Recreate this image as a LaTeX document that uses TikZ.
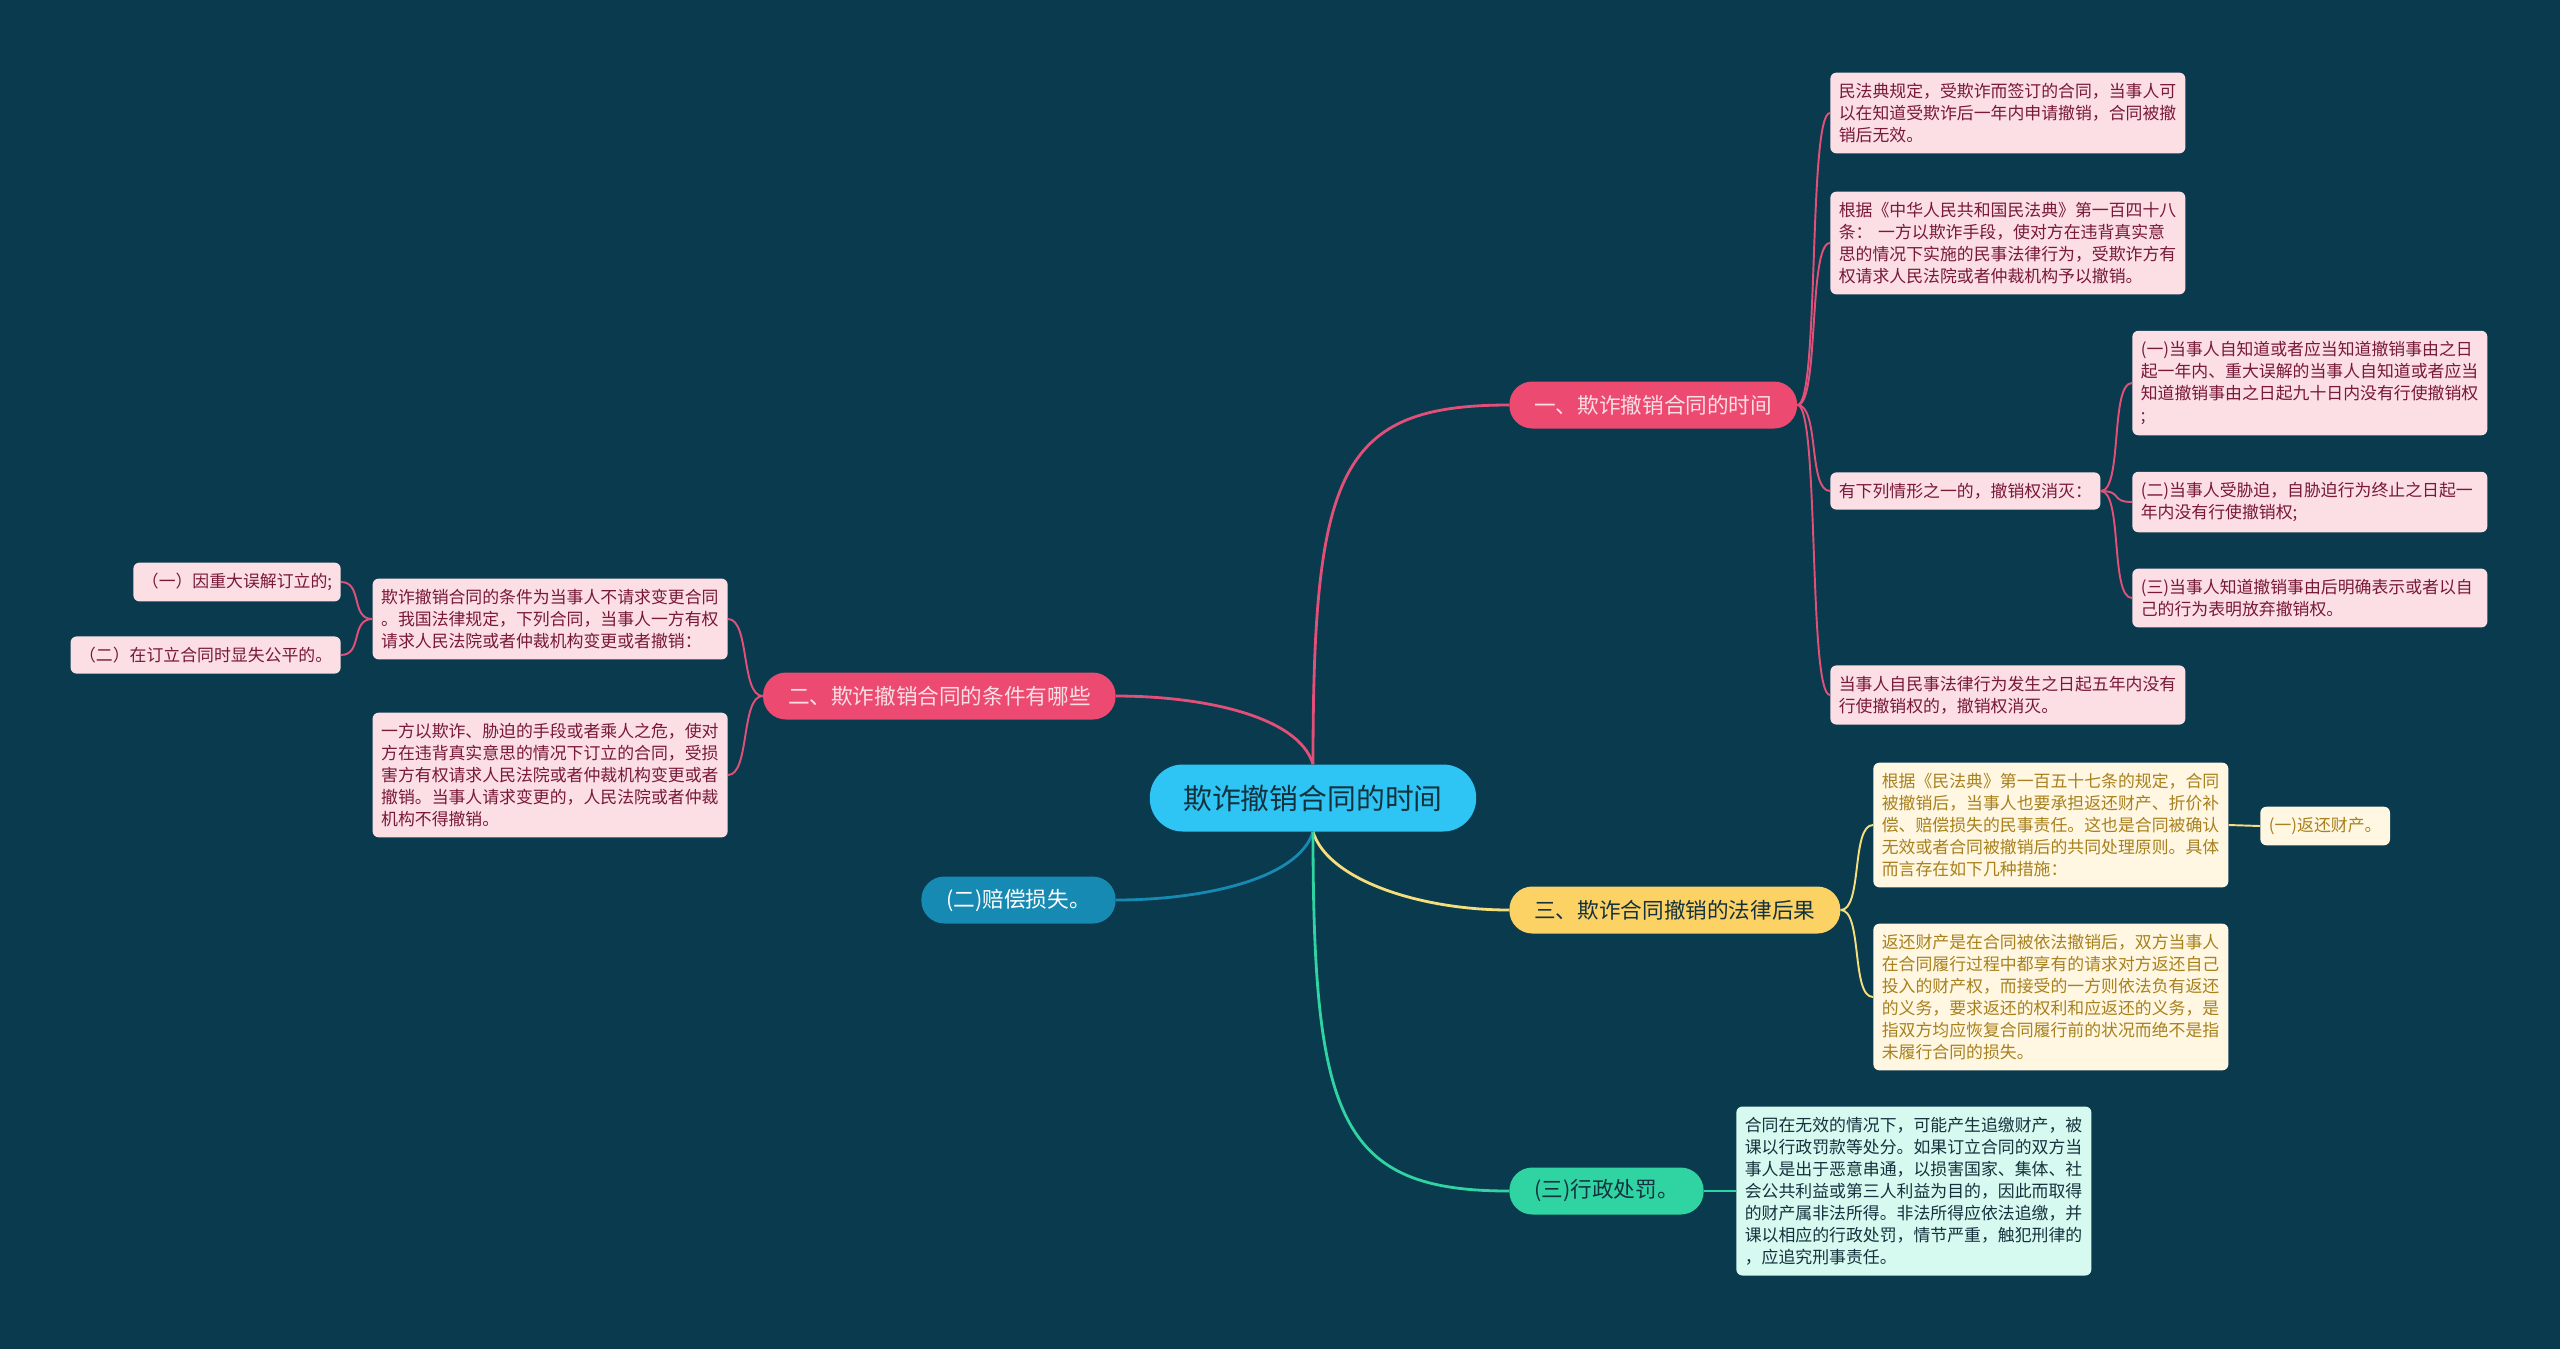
\documentclass[tikz,border=0pt]{standalone}
\usepackage{fontspec}
\newfontfamily\zhfont{Noto Sans CJK SC}
\usetikzlibrary{positioning}

\begin{document}
\begin{tikzpicture}[x=0.2mm, y=-0.2mm,
  pill/.style={rounded corners=4.6mm, minimum height=9.4mm, inner xsep=5mm, inner ysep=0pt,
    font=\zhfont\fontsize{12.3}{14}\selectfont},
  leaf/.style={rounded corners=1.2mm, inner xsep=1.7mm, inner ysep=6pt, align=left,
    font=\zhfont\fontsize{9.6}{12.5}\selectfont},
  wide/.style={leaf, text width=67.6mm},
  mainline/.style={line width=1.6pt},
  subline/.style={line width=1.1pt}]
  % Define colors
  \definecolor{bgcolor}{RGB}{10, 58, 77}
  \definecolor{rootcolor}{RGB}{46, 196, 243}
  \definecolor{rosecolor}{RGB}{236, 74, 112}
  \definecolor{rosefill}{RGB}{252, 222, 229}
  \definecolor{rosetext}{RGB}{120, 25, 55}
  \definecolor{roseline}{RGB}{224, 80, 120}
  \definecolor{goldcolor}{RGB}{252, 210, 100}
  \definecolor{goldfill}{RGB}{255, 247, 225}
  \definecolor{goldtext}{RGB}{168, 128, 30}
  \definecolor{goldline}{RGB}{245, 222, 125}
  \definecolor{seacolor}{RGB}{22, 138, 178}
  \definecolor{mintcolor}{RGB}{48, 212, 162}
  \definecolor{mintfill}{RGB}{214, 250, 240}
  \definecolor{darktext}{RGB}{20, 50, 62}

  % Background
  \fill[bgcolor] (0,0) rectangle (2560,1349);
  \useasboundingbox (0,0) rectangle (2560,1349);

  % Central topic
  \node[rounded corners=6.6mm, minimum height=13.4mm, inner xsep=6.7mm, fill=rootcolor, text=darktext,
    font=\zhfont\fontsize{16.4}{18}\selectfont] (root) at (1313,798) {欺诈撤销合同的时间};

  % Main branches
  \node[pill, fill=rosecolor, text=rosefill, anchor=west] (b1) at (1509,405) {一、欺诈撤销合同的时间};
  \node[pill, fill=rosecolor, text=rosefill, anchor=east] (b2) at (1116,696) {二、欺诈撤销合同的条件有哪些};
  \node[pill, fill=seacolor, text=white, anchor=east] (b4) at (1116,900) {(二)赔偿损失。};
  \node[pill, fill=goldcolor, text=darktext, anchor=west] (b3) at (1509,910) {三、欺诈合同撤销的法律后果};
  \node[pill, fill=mintcolor, text=darktext, anchor=west] (b5) at (1509,1191) {(三)行政处罚。};

  % Branch one
  \node[wide, fill=rosefill, text=rosetext, anchor=west] (a1) at (1830,113) {民法典规定，受欺诈而签订的合同，当事人可\\以在知道受欺诈后一年内申请撤销，合同被撤\\销后无效。};
  \node[wide, fill=rosefill, text=rosetext, anchor=west] (a2) at (1830,243) {根据《中华人民共和国民法典》第一百四十八\\条： 一方以欺诈手段，使对方在违背真实意\\思的情况下实施的民事法律行为，受欺诈方有\\权请求人民法院或者仲裁机构予以撤销。};
  \node[leaf, fill=rosefill, text=rosetext, anchor=west] (a3) at (1830,491) {有下列情形之一的，撤销权消灭：};
  \node[wide, fill=rosefill, text=rosetext, anchor=west] (a4) at (1830,695) {当事人自民事法律行为发生之日起五年内没有\\行使撤销权的，撤销权消灭。};
  \node[wide, fill=rosefill, text=rosetext, anchor=west] (l1) at (2132,383) {(一)当事人自知道或者应当知道撤销事由之日\\起一年内、重大误解的当事人自知道或者应当\\知道撤销事由之日起九十日内没有行使撤销权\\;};
  \node[wide, fill=rosefill, text=rosetext, anchor=west] (l2) at (2132,502) {(二)当事人受胁迫，自胁迫行为终止之日起一\\年内没有行使撤销权;};
  \node[wide, fill=rosefill, text=rosetext, anchor=west] (l3) at (2132,598) {(三)当事人知道撤销事由后明确表示或者以自\\己的行为表明放弃撤销权。};

  % Branch two
  \node[wide, fill=rosefill, text=rosetext, anchor=east] (c1) at (728,619) {欺诈撤销合同的条件为当事人不请求变更合同\\。我国法律规定，下列合同，当事人一方有权\\请求人民法院或者仲裁机构变更或者撤销：};
  \node[wide, fill=rosefill, text=rosetext, anchor=east] (c2) at (728,775) {一方以欺诈、胁迫的手段或者乘人之危，使对\\方在违背真实意思的情况下订立的合同，受损\\害方有权请求人民法院或者仲裁机构变更或者\\撤销。当事人请求变更的，人民法院或者仲裁\\机构不得撤销。};
  \node[leaf, fill=rosefill, text=rosetext, anchor=east] (d1) at (341,582) {（一）因重大误解订立的;};
  \node[leaf, fill=rosefill, text=rosetext, anchor=east] (d2) at (341,655) {（二）在订立合同时显失公平的。};

  % Branch three
  \node[wide, fill=goldfill, text=goldtext, anchor=west] (e1) at (1873,825) {根据《民法典》第一百五十七条的规定，合同\\被撤销后，当事人也要承担返还财产、折价补\\偿、赔偿损失的民事责任。这也是合同被确认\\无效或者合同被撤销后的共同处理原则。具体\\而言存在如下几种措施：};
  \node[wide, fill=goldfill, text=goldtext, anchor=west] (e2) at (1873,997) {返还财产是在合同被依法撤销后，双方当事人\\在合同履行过程中都享有的请求对方返还自己\\投入的财产权，而接受的一方则依法负有返还\\的义务，要求返还的权利和应返还的义务，是\\指双方均应恢复合同履行前的状况而绝不是指\\未履行合同的损失。};
  \node[leaf, fill=goldfill, text=goldtext, anchor=west] (f1) at (2260,826) {(一)返还财产。};

  % Penalty
  \node[wide, fill=mintfill, text=darktext, anchor=west] (g1) at (1736,1191) {合同在无效的情况下，可能产生追缴财产，被\\课以行政罚款等处分。如果订立合同的双方当\\事人是出于恶意串通，以损害国家、集体、社\\会公共利益或第三人利益为目的，因此而取得\\的财产属非法所得。非法所得应依法追缴，并\\课以相应的行政处罚，情节严重，触犯刑律的\\，应追究刑事责任。};

  % Connectors from the centre
  \draw[mainline, roseline] (root.north) .. controls (1313,470) and (1340,405) .. (b1.west);
  \draw[mainline, roseline] (root.north) .. controls (1298,715) and (1200,696) .. (b2.east);
  \draw[mainline, seacolor] (root.south) .. controls (1298,880) and (1200,900) .. (b4.east);
  \draw[mainline, goldline] (root.south) .. controls (1328,880) and (1420,910) .. (b3.west);
  \draw[mainline, mintcolor] (root.south) .. controls (1313,1120) and (1340,1191) .. (b5.west);

  % Connectors to the details
  \foreach \k in {a1,a2,a3,a4}
    \draw[subline, roseline] (b1.east) .. controls +(22,0) and +(-22,0) .. (\k.west);
  \foreach \k in {l1,l2,l3}
    \draw[subline, roseline] (a3.east) .. controls +(22,0) and +(-22,0) .. (\k.west);
  \foreach \k in {c1,c2}
    \draw[subline, roseline] (b2.west) .. controls +(-22,0) and +(22,0) .. (\k.east);
  \foreach \k in {d1,d2}
    \draw[subline, roseline] (c1.west) .. controls +(-22,0) and +(22,0) .. (\k.east);
  \foreach \k in {e1,e2}
    \draw[subline, goldline] (b3.east) .. controls +(22,0) and +(-22,0) .. (\k.west);
  \draw[subline, goldline] (e1.east) -- (f1.west);
  \draw[subline, mintcolor] (b5.east) -- (g1.west);
\end{tikzpicture}
\end{document}
